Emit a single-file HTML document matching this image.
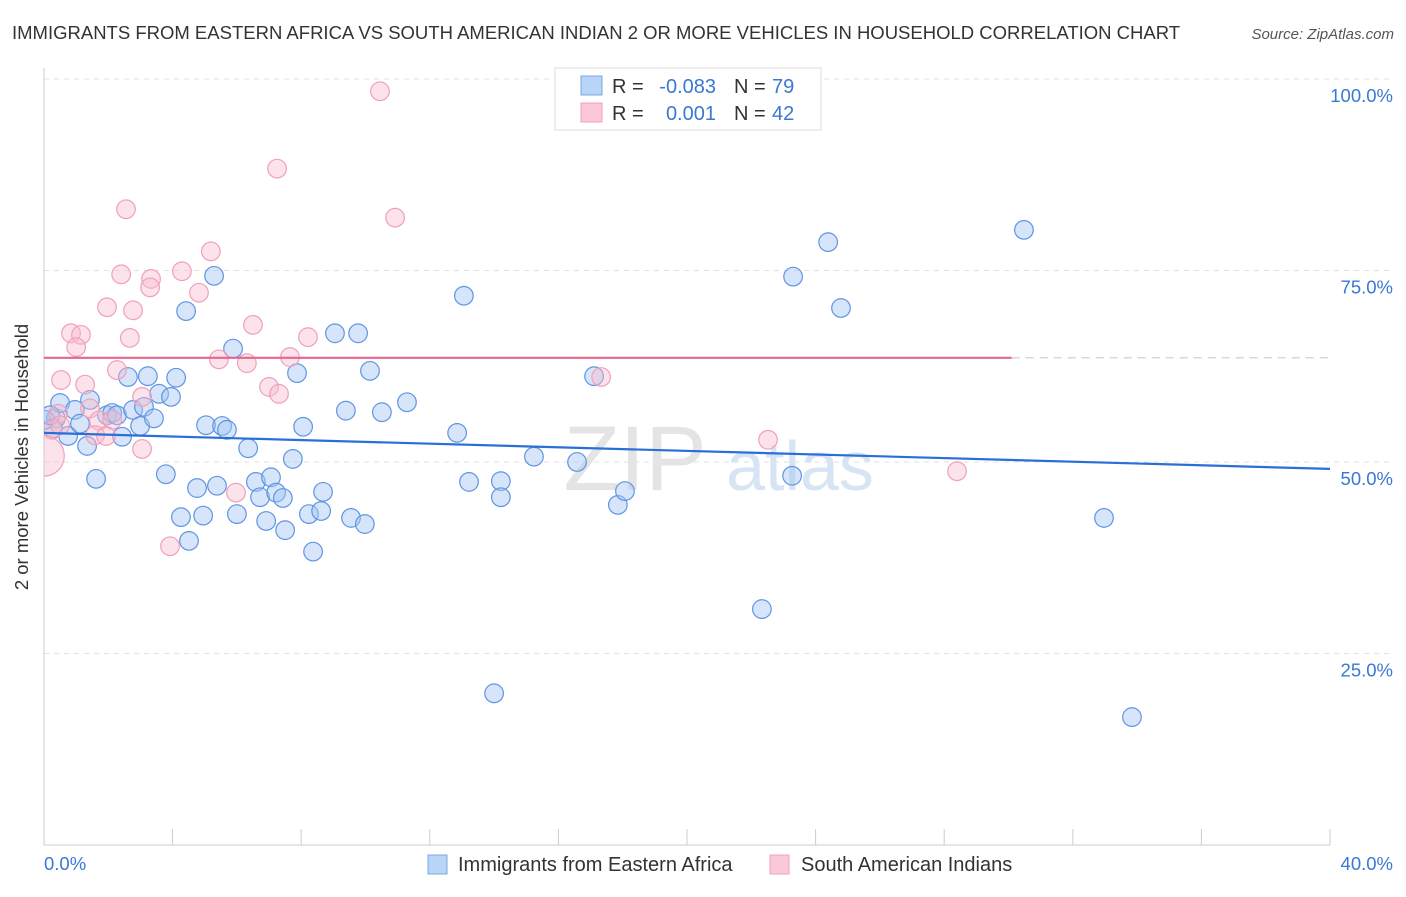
<!DOCTYPE html>
<html><head><meta charset="utf-8"><style>
body{margin:0;background:#fff;font-family:"Liberation Sans",sans-serif}
svg text{font-family:"Liberation Sans",sans-serif}
</style></head><body>
<svg id="chart" width="1406" height="892" viewBox="0 0 1406 892" xmlns="http://www.w3.org/2000/svg">
<defs><clipPath id="plotclip"><rect x="44" y="60" width="1300" height="785"/></clipPath></defs>
<text x="12" y="39" font-size="18.5" fill="#333">IMMIGRANTS FROM EASTERN AFRICA VS SOUTH AMERICAN INDIAN 2 OR MORE VEHICLES IN HOUSEHOLD CORRELATION CHART</text>
<text x="1394" y="39" font-size="15" fill="#555" text-anchor="end" font-style="italic">Source: ZipAtlas.com</text>
<g id="grid"></g>
<g><text x="635" y="490" font-size="92" font-family="Liberation Serif" fill="#e4e4e4" text-anchor="middle">ZIP</text><text x="800" y="490" font-size="70" fill="#d6e4f4" text-anchor="middle">atlas</text></g>
<line x1="44" y1="68" x2="44" y2="845" stroke="#ccc"/>
<line x1="44" y1="845" x2="1330" y2="845" stroke="#ccc"/>
<g id="xticks"></g>
<g id="pts" clip-path="url(#plotclip)"></g>
<g id="reg"></g>
<text x="28" y="457" font-size="18.5" fill="#333" text-anchor="middle" transform="rotate(-90 28 457)">2 or more Vehicles in Household</text>
<text x="44" y="870" font-size="18.5" fill="#3a78d4">0.0%</text>
<text x="1393" y="870" font-size="18.5" fill="#3a78d4" text-anchor="end">40.0%</text>
<g>
<rect x="555" y="68" width="266" height="62" fill="#fff" stroke="#ddd"/>
<rect x="581" y="76" width="21" height="19" fill="#b8d4f6" stroke="#7aa8e6"/>
<rect x="581" y="103" width="21" height="19" fill="#fbc8d8" stroke="#f0a0b8"/>
<text x="612" y="93" font-size="20" fill="#333">R =</text>
<text x="716" y="93" font-size="20" fill="#3a78d4" text-anchor="end">-0.083</text>
<text x="734" y="93" font-size="20" fill="#333">N =</text>
<text x="772" y="93" font-size="20" fill="#3a78d4">79</text>
<text x="612" y="120" font-size="20" fill="#333">R =</text>
<text x="716" y="120" font-size="20" fill="#3a78d4" text-anchor="end">0.001</text>
<text x="734" y="120" font-size="20" fill="#333">N =</text>
<text x="772" y="120" font-size="20" fill="#3a78d4">42</text>
</g>
<g>
<rect x="428" y="855" width="19" height="19" fill="#b8d4f6" stroke="#7aa8e6"/>
<text x="458" y="871" font-size="20" fill="#333">Immigrants from Eastern Africa</text>
<rect x="770" y="855" width="19" height="19" fill="#fbc8d8" stroke="#f0a0b8"/>
<text x="801" y="871" font-size="20" fill="#333">South American Indians</text>
</g>
</svg>
<script>
const yTicks=[25,50,75,100];
const yTickLabels=["25.0%","50.0%","75.0%","100.0%"];
const xTickVals=[0,4,8,12,16,20,24,28,32,36,40];
const blueX=[0.37,0.50,0.28,0.75,0.96,1.12,1.34,1.43,1.62,1.96,2.12,2.27,2.43,2.61,2.77,2.99,3.11,3.23,3.42,3.58,3.79,3.95,4.11,4.26,4.42,4.51,4.76,4.95,5.04,5.29,5.38,5.54,5.69,5.88,6.00,6.35,6.59,6.72,6.91,7.06,7.22,7.43,7.50,7.74,7.87,8.06,8.24,8.37,8.62,8.68,9.05,9.39,9.55,9.77,9.98,10.14,10.51,11.29,12.85,13.06,13.22,14.00,14.21,14.21,15.24,16.58,17.11,17.85,18.07,22.33,23.27,23.30,24.39,24.79,30.48,32.97,33.84,0.03,0.19];
const blueY=[55.7,57.7,54.4,53.4,56.8,55.0,52.1,58.1,47.8,56.1,56.4,56.1,53.3,61.1,56.8,54.7,57.2,61.2,55.7,58.9,48.4,58.5,61.0,42.8,69.7,39.7,46.6,43.0,54.8,74.3,46.9,54.7,54.2,64.8,43.2,51.8,47.4,45.4,42.3,48.0,46.0,45.3,41.1,50.4,61.6,54.6,43.2,38.3,43.6,46.1,66.8,56.7,42.7,66.8,41.9,61.9,56.5,57.8,53.8,71.7,47.4,19.8,47.5,45.4,50.7,50.0,61.2,44.4,46.2,30.8,48.2,74.2,78.7,70.1,80.3,42.7,16.7,55.5,56.1];
const pinkX=[10.45,7.25,2.55,10.92,5.19,2.40,4.29,3.33,3.30,4.82,1.96,2.77,6.50,0.84,1.15,8.21,2.67,1.00,5.44,6.31,7.65,2.27,0.53,7.00,1.28,7.31,3.05,17.33,1.43,1.71,2.12,0.44,0.25,1.59,1.93,22.52,3.05,5.97,28.40,3.92,0.00,0.50];
const pinkY=[98.4,88.3,83.0,81.9,77.5,74.5,74.9,73.9,72.8,72.1,70.2,69.8,67.9,66.8,66.6,66.3,66.2,65.0,63.4,62.9,63.7,62.0,60.7,59.8,60.1,58.9,58.5,61.1,57.0,55.4,55.5,56.3,54.2,53.5,53.4,52.9,51.7,46.0,48.8,39.0,50.8,54.8];
const pinkSize=[9,9,9,9,9,9,9,9,9,9,9,9,9,9,9,9,9,9,9,9,9,9,9,9,9,9,9,9,9,9,9,9,9,9,9,9,9,9,9,9,20,9];
const blueReg=[53.8,49.1];
const pinkReg=[63.6,63.6];
const pinkRegEnd=30.1;
const NS="http://www.w3.org/2000/svg";
const sx=v=>44+v*(1286/40);
const sy=v=>845-v*7.66;
function mk(t,a,p){const e=document.createElementNS(NS,t);for(const k in a)e.setAttribute(k,a[k]);document.getElementById(p).appendChild(e);return e;}
yTicks.forEach((t,i)=>{
 const l=mk('line',{x1:44,x2:1394,y1:sy(t),y2:sy(t),stroke:'#e2e2e2','stroke-dasharray':'5,5'},'grid');
 
 
 const tx=mk('text',{x:1393,y:sy(t)+23,'font-size':18.5,fill:'#3a78d4','text-anchor':'end'},'grid');
 tx.textContent=yTickLabels[i];
 
 
});
xTickVals.forEach(v=>{
 const l=mk('line',{x1:sx(v),x2:sx(v),y1:829,y2:845,stroke:'#ccc'},'xticks');
 
 
});
blueX.forEach((x,i)=>{
 const c=mk('circle',{cx:sx(x),cy:sy(blueY[i]),r:9.3,fill:'rgba(164,198,242,0.45)',stroke:'#5f95e2','stroke-width':1.2},'pts');
 
 
});
pinkX.forEach((x,i)=>{
 const c=mk('circle',{cx:sx(x),cy:sy(pinkY[i]),r:pinkSize[i]+0.3,fill:'rgba(249,186,205,0.42)',stroke:'#f0a0ba','stroke-width':1.2},'pts');
 
 
});
const b=mk('line',{x1:sx(0),y1:sy(blueReg[0]),x2:sx(40),y2:sy(blueReg[1]),stroke:'#2a6fd6','stroke-width':2.2},'reg');


const p=mk('line',{x1:sx(0),y1:sy(pinkReg[0]),x2:sx(pinkRegEnd),y2:sy(pinkReg[1]),stroke:'#e4668e','stroke-width':2.2},'reg');


const pd=mk('line',{x1:sx(pinkRegEnd),y1:sy(pinkReg[1]),x2:sx(40),y2:sy(pinkReg[1]),stroke:'#ccc','stroke-width':1.2,'stroke-dasharray':'8,6'},'reg');


</script>
</body></html>
